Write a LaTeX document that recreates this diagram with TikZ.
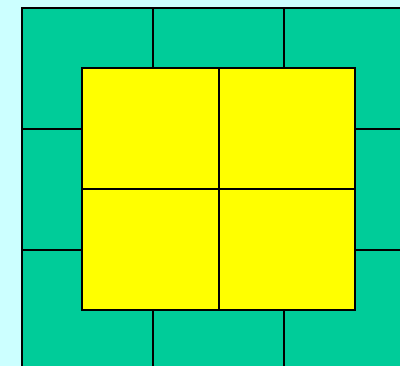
\documentclass[tikz,border=0pt]{standalone}
\definecolor{bgcyan}{HTML}{CCFFFF}
\definecolor{tilegreen}{HTML}{00CC99}
\definecolor{tileyellow}{HTML}{FFFF00}
\tikzset{gridline/.style={draw=black,line width=2pt}}
\begin{document}
\begin{tikzpicture}[x=1pt,y=-1pt]
\useasboundingbox (0,0) rectangle (400,366);
\clip (0,0) rectangle (400,366);
\fill[bgcyan] (0,0) rectangle (400,366);
% outer green grid
\fill[tilegreen] (22,8) rectangle (420,380);
\draw[gridline] (22,380) -- (22,8) -- (420,8);
\draw[gridline] (153,8) -- (153,380);
\draw[gridline] (284,8) -- (284,380);
\draw[gridline] (22,129) -- (420,129);
\draw[gridline] (22,250) -- (420,250);
% inner yellow square
\filldraw[gridline,fill=tileyellow] (82,68) rectangle (355,310);
\draw[gridline] (219,68) -- (219,310);
\draw[gridline] (82,189) -- (355,189);
\end{tikzpicture}
\end{document}
